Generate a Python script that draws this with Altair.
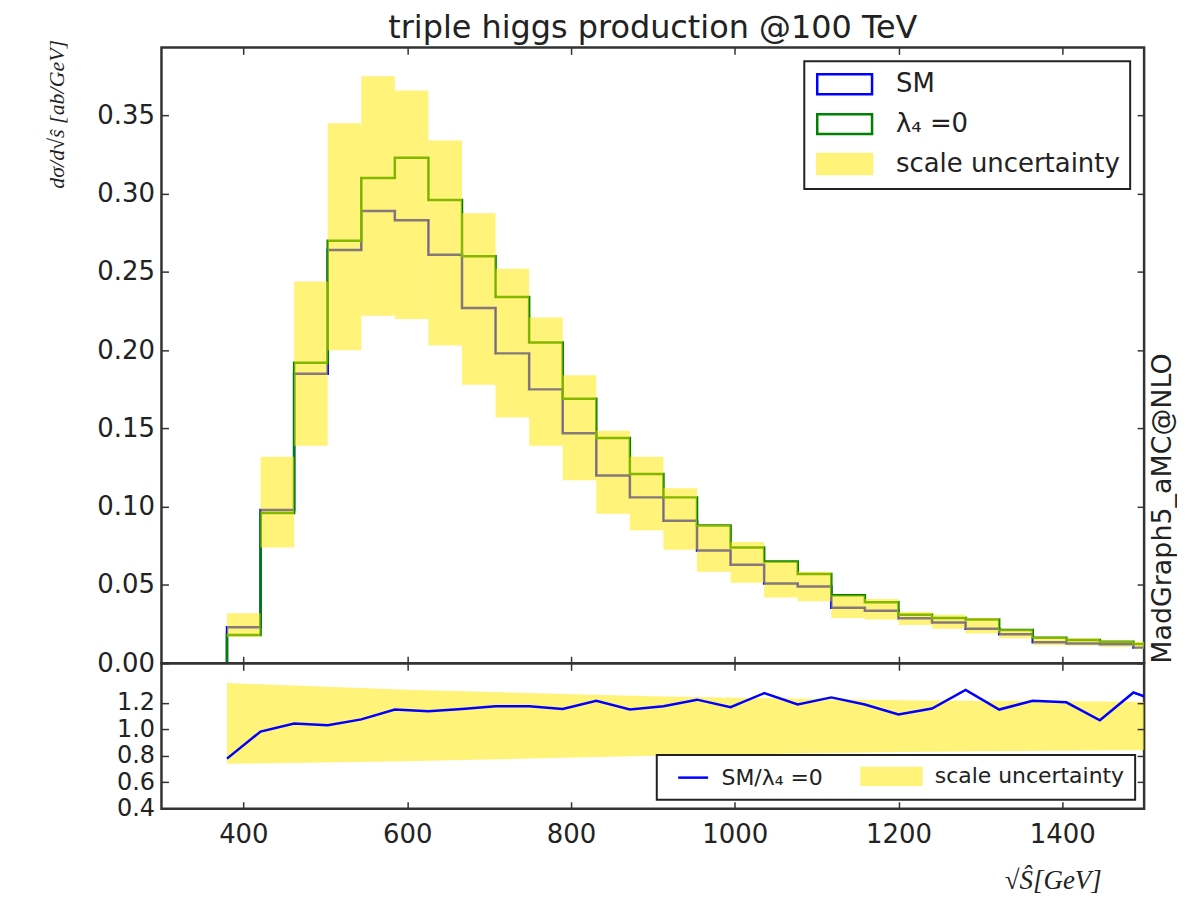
import altair as alt
import pandas as pd

# ---------------- data ----------------
bin_edges = [380, 421, 462, 503, 544, 585, 626, 667, 708, 749, 790, 831, 872, 913,
             954, 995, 1036, 1077, 1118, 1159, 1200, 1241, 1282, 1323, 1364, 1405,
             1446, 1487, 1528]
sm_xsec = [0.023, 0.098, 0.185, 0.264, 0.289, 0.283, 0.261, 0.227, 0.198, 0.175,
           0.147, 0.120, 0.106, 0.091, 0.072, 0.063, 0.051, 0.049, 0.0355, 0.0335,
           0.0287, 0.026, 0.022, 0.0185, 0.0134, 0.0127, 0.0121, 0.010]
lam0_xsec = [0.018, 0.096, 0.192, 0.270, 0.310, 0.323, 0.296, 0.260, 0.234, 0.205,
             0.169, 0.144, 0.121, 0.106, 0.088, 0.074, 0.065, 0.057, 0.0435, 0.039,
             0.031, 0.029, 0.028, 0.0212, 0.0163, 0.0148, 0.0138, 0.0123]
scale_lo = [0.017, 0.074, 0.139, 0.200, 0.222, 0.220, 0.203, 0.178, 0.157, 0.139,
            0.117, 0.0955, 0.085, 0.0726, 0.0584, 0.0514, 0.042, 0.0397, 0.029, 0.028,
            0.0244, 0.022, 0.019, 0.016, 0.0117, 0.0113, 0.0106, 0.0091]
scale_hi = [0.032, 0.132, 0.244, 0.345, 0.375, 0.366, 0.334, 0.2875, 0.252, 0.221,
            0.184, 0.1485, 0.132, 0.1118, 0.0885, 0.0775, 0.0651, 0.0584, 0.0435, 0.041,
            0.033, 0.031, 0.029, 0.0218, 0.017, 0.016, 0.0146, 0.0138]
ratio_vals = [0.779, 0.984, 1.044, 1.031, 1.076, 1.150, 1.138, 1.155, 1.175, 1.175,
              1.155, 1.217, 1.150, 1.175, 1.225, 1.168, 1.274, 1.188, 1.242, 1.188,
              1.113, 1.158, 1.299, 1.150, 1.217, 1.205, 1.069, 1.279, 1.19]
ratio_band_x = [380, 600, 900, 1200, 1500]
ratio_band_hi = [1.35, 1.30, 1.25, 1.22, 1.21]
ratio_band_lo = [0.74, 0.76, 0.80, 0.83, 0.845]

x_ticks = [400, 600, 800, 1000, 1200, 1400]
y_ticks_main = [0.0, 0.05, 0.10, 0.15, 0.20, 0.25, 0.30, 0.35]
y_ticks_ratio = [0.4, 0.6, 0.8, 1.0, 1.2]
legend_main = ["SM", "λ₄ =0", "scale uncertainty"]
legend_ratio = ["SM/λ₄ =0", "scale uncertainty"]

TITLE = "triple higgs production @100 TeV"
Y_TITLE = "dσ/d√ŝ [ab/GeV]"
X_TITLE = "√Ŝ[GeV]"
SIDE_TEXT = "MadGraph5_aMC@NLO"

# ---------------- tables ----------------
nb = len(sm_xsec)
bins_df = pd.DataFrame({"x0": bin_edges[:-1], "x1": bin_edges[1:],
                        "lo": scale_lo, "hi": scale_hi})


def step_frame(vals):
    xs = [bin_edges[0]] + bin_edges[:nb] + [bin_edges[nb]]
    ys = [0.0] + list(vals) + [vals[-1]]
    return pd.DataFrame({"x": xs, "y": ys, "i": list(range(len(xs)))})


sm_df = step_frame(sm_xsec)
lam_df = step_frame(lam0_xsec)
ratio_df = pd.DataFrame({"x": bin_edges, "r": ratio_vals})
rband_df = pd.DataFrame({"x": ratio_band_x, "lo": ratio_band_lo, "hi": ratio_band_hi})

# ---------------- style ----------------
BLUE = "#0000ff"
GREEN = "#008000"
YEL = "#ffe800"
YEL_OP = 0.52
YEL_LEG = "#fff37a"
INK = "#222222"
FRAME = "#333333"

W = 986
H_MAIN = 618
H_RATIO = 146

xs = alt.Scale(domain=[300, 1500], nice=False, zero=False)
ys_main = alt.Scale(domain=[0, 0.3935], nice=False, zero=False)
ys_ratio = alt.Scale(domain=[0.4, 1.5], nice=False, zero=False)

TICK = dict(tickSize=7, offset=-7, domain=False, grid=False, tickColor=FRAME,
            tickWidth=1.5, zindex=2, minExtent=0)

ax_x_bottom_main = alt.Axis(values=x_ticks, labels=False, title=None, **TICK)
ax_x_top = alt.Axis(values=x_ticks, labels=False, title=None, orient="top", **TICK)
ax_y_left_main = alt.Axis(values=y_ticks_main, format=".2f", title=Y_TITLE,
                          titleFont="Liberation Serif", titleFontStyle="italic",
                          titleFontWeight="normal", titleFontSize=22,
                          titleAnchor="end", titleY=-8, titlePadding=28,
                          labelPadding=7, **TICK)
ax_y_right_main = alt.Axis(values=y_ticks_main, labels=False, orient="right",
                           title=SIDE_TEXT, titleAngle=270, titleAnchor="start",
                           titleBaseline="top",
                           titleFont="DejaVu Sans", titleFontSize=27,
                           titleFontWeight="normal", titlePadding=5, **TICK)
ax_x_bottom_ratio = alt.Axis(values=x_ticks, format="d", title=X_TITLE,
                             titleFont="Liberation Serif", titleFontStyle="italic",
                             titleFontWeight="normal", titleFontSize=27,
                             titleX=943, titleAlign="right", titlePadding=20,
                             labelPadding=13, **TICK)
ax_y_left_ratio = alt.Axis(values=y_ticks_ratio, format=".1f", title=None,
                           labelPadding=7, labelFontSize=24, **TICK)
ax_y_right_ratio = alt.Axis(values=y_ticks_ratio, labels=False, orient="right",
                            title=None, **TICK)

# ---------------- main panel ----------------
line_sm = alt.Chart(sm_df).mark_line(
    color=BLUE, strokeWidth=2.5, interpolate="step-after", clip=True
).encode(
    x=alt.X("x:Q", scale=xs, axis=ax_x_top),
    y=alt.Y("y:Q", scale=ys_main, axis=ax_y_right_main),
    order=alt.Order("i:Q"),
)
line_lam = alt.Chart(lam_df).mark_line(
    color=GREEN, strokeWidth=2.5, interpolate="step-after", clip=True
).encode(
    x=alt.X("x:Q", scale=xs, axis=None),
    y=alt.Y("y:Q", scale=ys_main, axis=None),
    order=alt.Order("i:Q"),
)
band = alt.Chart(bins_df).mark_rect(color=YEL, opacity=YEL_OP, clip=True).encode(
    x=alt.X("x0:Q", scale=xs, axis=ax_x_bottom_main),
    x2="x1:Q",
    y=alt.Y("lo:Q", scale=ys_main, axis=ax_y_left_main),
    y2="hi:Q",
)

leg_main = alt.Legend(
    title=None, orient="top-right", offset=14, padding=10,
    strokeColor=INK, fillColor="white",
    symbolType="M-1,-1H4.5V1H-1Z", symbolSize=400, symbolStrokeWidth=2.5,
    labelFont="DejaVu Sans", labelFontSize=26, labelColor=INK,
    labelOffset=56, rowPadding=10, labelLimit=500,
)
dummy_main = alt.Chart(pd.DataFrame({"series": legend_main})).transform_filter(
    "false"
).mark_rect(strokeWidth=2.5).encode(
    fill=alt.Fill("series:N", scale=alt.Scale(domain=legend_main,
                                              range=["#ffffff", "#ffffff", YEL_LEG]),
                  legend=leg_main),
    stroke=alt.Stroke("series:N", scale=alt.Scale(domain=legend_main,
                                                  range=[BLUE, GREEN, YEL_LEG]),
                      legend=leg_main),
)

main = alt.layer(line_sm, line_lam, band, dummy_main).resolve_axis(
    x="independent", y="independent"
).properties(
    width=W, height=H_MAIN,
    title=alt.Title(TITLE, font="DejaVu Sans", fontSize=32, fontWeight="normal",
                    color=INK, anchor="middle", baseline="bottom", offset=-38),
)

# ---------------- ratio panel ----------------
rband = alt.Chart(rband_df).mark_area(color=YEL, opacity=YEL_OP, clip=True).encode(
    x=alt.X("x:Q", scale=xs, axis=ax_x_bottom_ratio),
    y=alt.Y("lo:Q", scale=ys_ratio, axis=ax_y_left_ratio),
    y2="hi:Q",
)
rline = alt.Chart(ratio_df).mark_line(color=BLUE, strokeWidth=2.5, clip=True).encode(
    x=alt.X("x:Q", scale=xs, axis=ax_x_top),
    y=alt.Y("r:Q", scale=ys_ratio, axis=ax_y_right_ratio),
)
leg_ratio = alt.Legend(
    title=None, orient="bottom-right", offset=9, padding=10, direction="horizontal",
    strokeColor=INK, fillColor="white",
    symbolSize=400, symbolStrokeWidth=2.5,
    labelFont="DejaVu Sans", labelFontSize=22, labelColor=INK,
    labelOffset=32, columnPadding=33, labelLimit=500,
)
dummy_ratio = alt.Chart(pd.DataFrame({"rseries": legend_ratio})).transform_filter(
    "false"
).mark_point(strokeWidth=2.5, opacity=1).encode(
    fill=alt.Fill("rseries:N", scale=alt.Scale(domain=legend_ratio,
                                               range=["#ffffff", YEL_LEG]),
                  legend=leg_ratio),
    stroke=alt.Stroke("rseries:N", scale=alt.Scale(domain=legend_ratio,
                                                   range=[BLUE, YEL_LEG]),
                      legend=leg_ratio),
    shape=alt.Shape("rseries:N", scale=alt.Scale(domain=legend_ratio,
                                                 range=["M0,0H3", "M-3,-0.85H3V0.85H-3Z"]),
                    legend=leg_ratio),
)

ratio = alt.layer(rband, rline, dummy_ratio).resolve_axis(
    x="independent", y="independent"
).properties(width=W, height=H_RATIO)

chart = alt.vconcat(main, ratio, spacing=0, bounds="flush").resolve_scale(
    x="independent", y="independent", fill="independent",
    stroke="independent", shape="independent",
).resolve_legend(fill="independent", stroke="independent", shape="independent").properties(
    padding={"left": 36, "top": 1, "right": 0, "bottom": 0}
).configure_view(
    stroke=FRAME, strokeWidth=2.5
).configure_axis(
    labelFont="DejaVu Sans", labelFontSize=26, labelColor=INK, titleColor=INK,
).configure_legend(
    strokeWidth=2
)

chart.save("out.html", embed_options={"renderer": "svg", "actions": False})
